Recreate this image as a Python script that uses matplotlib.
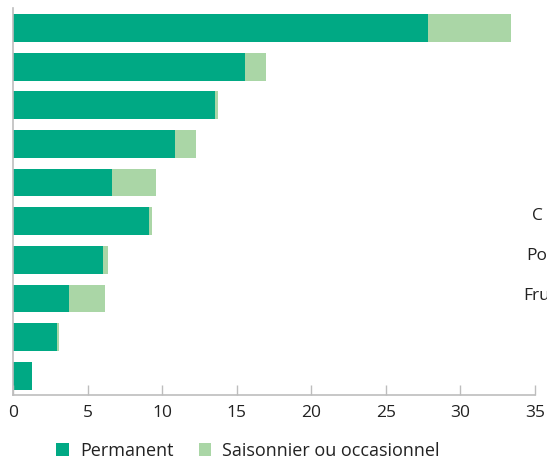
import matplotlib.pyplot as plt
import numpy as np

plt.rcParams['font.family'] = ['Open Sans', 'DejaVu Sans']

# share of workers (%), permanent vs seasonal, per category (top to bottom)
permanent = [27.8, 15.55, 13.55, 10.85, 6.65, 9.1, 6.05, 3.75, 2.95, 1.3]
seasonal = [5.6, 1.4, 0.2, 1.4, 2.95, 0.2, 0.3, 2.4, 0.15, 0.0]
xticks = [0, 5, 10, 15, 20, 25, 30, 35]
# labels of the neighbouring panel, cut off at the right edge
side_labels = ['C', 'Po', 'Fru']

dark = '#00A984'
light = '#AAD6A6'
grey = '#BDBDBD'

fig = plt.figure(figsize=(5.47, 4.59), dpi=100)
ax = fig.add_axes([13 / 547, 64 / 459, 522 / 547, 387 / 459])

y = np.arange(len(permanent))
ax.barh(y, permanent, height=0.72, color=dark, label='Permanent')
ax.barh(y, seasonal, left=permanent, height=0.72, color=light,
        label='Saisonnier ou occasionnel')

ax.set_xlim(0, 35)
ax.set_ylim(9.5, -0.52)
ax.set_xticks(xticks)
ax.set_yticks([])
ax.tick_params(axis='x', direction='in', length=7, color=grey, width=1,
               labelsize=12.5, pad=7, labelcolor='#222222')
for s in ['top', 'right']:
    ax.spines[s].set_visible(False)
for s in ['left', 'bottom']:
    ax.spines[s].set_color(grey)
    ax.spines[s].set_linewidth(1.2)

for lab, yy, xx in zip(side_labels, [216, 256, 296], [532, 526, 523]):
    fig.text(xx / 547, 1 - yy / 459, lab, fontsize=12.5, va='center',
             ha='left', color='#222222')

ax.legend(loc='center', bbox_to_anchor=(248 / 547, 1 - 451 / 459),
          bbox_transform=fig.transFigure, ncol=2, frameon=False,
          fontsize=13, handlelength=0.7, handleheight=0.7,
          handletextpad=0.6, columnspacing=1.4, labelcolor='#222222')

fig.savefig('out.png', dpi=100)
